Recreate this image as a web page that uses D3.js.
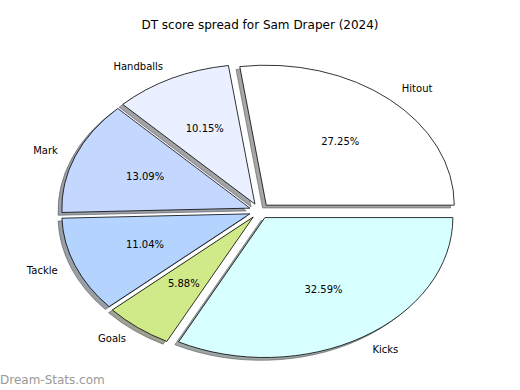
<!DOCTYPE html>
<html>
<head>
    <meta charset="utf-8" />
    <title>DT score spread</title>
    <script src="https://d3js.org/d3.v7.min.js"></script>
    <style>
        body { margin: 0; background: #fff; }
        text { font-family: "DejaVu Sans", sans-serif; }
    </style>
</head>
<body>
    <svg class="chart"></svg>
    <script>
        var categories = ["Hitout", "Handballs", "Mark", "Tackle", "Goals", "Kicks"];
        var shares = [27.25, 10.15, 13.09, 11.04, 5.88, 32.59];
        var colors = ["#ffffff", "#eaf0ff", "#c4d8ff", "#b4d4ff", "#d0ea8a", "#d8ffff"];
        var title = "DT score spread for Sam Draper (2024)";

        var svgWidth = 520, svgHeight = 390;
        var explode = 0.055;

        var svg = d3.select(".chart")
            .attr("width", svgWidth)
            .attr("height", svgHeight);

        // pie is drawn in "data" units (radius 1), stretched like an unequal-aspect axes
        var cx = 259.5, cy = 211, rx = 188, ry = 140;
        var xScale = d3.scaleLinear().domain([-1, 1]).range([cx - rx, cx + rx]);
        var yScale = d3.scaleLinear().domain([-1, 1]).range([cy + ry, cy - ry]);

        // start at 3 o'clock, go counter-clockwise
        var pie = d3.pie().sort(null).value(d => d)
            .startAngle(Math.PI / 2).endAngle(Math.PI / 2 - 2 * Math.PI);
        var arcs = pie(shares);
        var arc = d3.arc().innerRadius(0).outerRadius(1);

        // d3 angle -> math angle
        var midTheta = d => Math.PI / 2 - (d.startAngle + d.endAngle) / 2;

        var sx = xScale(1) - xScale(0), sy = yScale(0) - yScale(1);
        function place(d, dist) {
            var t = midTheta(d);
            return [xScale(dist * Math.cos(t)), yScale(dist * Math.sin(t))];
        }
        function wedgeTransform(d, ox, oy) {
            var p = place(d, explode);
            return "translate(" + (p[0] + ox * sx) + "," + (p[1] - oy * sy) + ") scale(" + sx + "," + sy + ")";
        }
        function shade(c) {
            var rgb = d3.rgb(c);
            return d3.rgb(rgb.r * 0.3, rgb.g * 0.3, rgb.b * 0.3).formatHex();
        }

        // shadows behind everything
        svg.append("g").selectAll("path")
            .data(arcs).enter().append("path")
                .attr("d", arc)
                .attr("transform", d => wedgeTransform(d, -0.02, -0.02))
                .attr("fill", (d, i) => shade(colors[i]))
                .attr("fill-opacity", 0.5)
                .attr("stroke", (d, i) => shade(colors[i]))
                .attr("stroke-opacity", 0.5)
                .attr("stroke-width", 1)
                .attr("vector-effect", "non-scaling-stroke");

        svg.append("g").selectAll("path")
            .data(arcs).enter().append("path")
                .attr("d", arc)
                .attr("transform", d => wedgeTransform(d, 0, 0))
                .attr("fill", (d, i) => colors[i])
                .attr("stroke", "#000")
                .attr("stroke-width", 0.8)
                .attr("stroke-linejoin", "miter")
                .attr("vector-effect", "non-scaling-stroke");

        // outer labels
        svg.append("g").selectAll("text")
            .data(arcs).enter().append("text")
                .attr("x", d => place(d, 1.1 + explode)[0])
                .attr("y", d => place(d, 1.1 + explode)[1])
                .attr("dy", "0.35em")
                .attr("text-anchor", d => Math.cos(midTheta(d)) > 0 ? "start" : "end")
                .style("font-size", "10px")
                .attr("fill", "#000")
                .text((d, i) => categories[i]);

        // percentages
        svg.append("g").selectAll("text")
            .data(arcs).enter().append("text")
                .attr("x", d => place(d, 0.6 + explode)[0])
                .attr("y", d => place(d, 0.6 + explode)[1])
                .attr("dy", "0.35em")
                .attr("text-anchor", "middle")
                .style("font-size", "10px")
                .attr("fill", "#000")
                .text(d => d.value.toFixed(2) + "%");

        svg.append("text")
            .attr("x", 260).attr("y", 29)
            .attr("text-anchor", "middle")
            .style("font-size", "12px")
            .text(title);

        svg.append("text")
            .attr("x", 0).attr("y", 384)
            .style("font-size", "12px")
            .attr("fill", "#999")
            .text("Dream-Stats.com");
    </script>
</body>
</html>
